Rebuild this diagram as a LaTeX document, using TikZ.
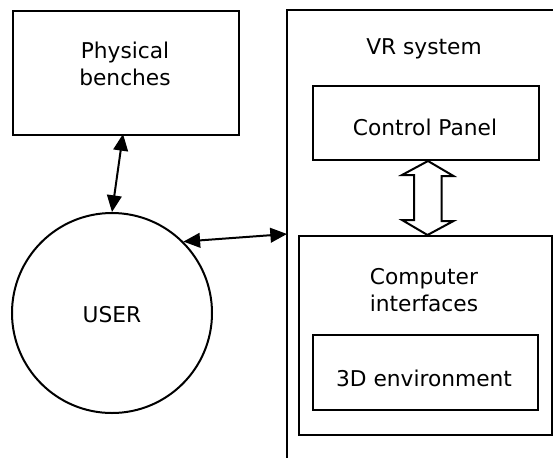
\documentclass[tikz,border=0pt]{standalone}
\usepackage{fontspec}
\setmainfont{DejaVu Sans}
\usetikzlibrary{arrows.meta,calc}
\begin{document}
\begin{tikzpicture}[x=0.75pt,y=-0.75pt,
  box/.style={draw,line width=1.5pt,inner sep=0pt,anchor=north west},
  lbl/.style={font=\fontsize{16.3}{20.3}\selectfont,align=center,inner sep=0pt},
  arr/.style={line width=1.5pt,{Triangle[length=12.5pt,width=11pt]}-{Triangle[length=12.5pt,width=11pt]}}]
\useasboundingbox (0,0) rectangle (553,457);
\begin{scope}
\clip (0,0) rectangle (553,457);
\draw[line width=1.5pt] (287,470) -- (287,10) -- (570,10);
\end{scope}
\coordinate (vrleft) at (287,234);
\node[box,minimum width=226*0.75pt,minimum height=124*0.75pt] (pb) at (12,10) {};
\node[lbl] (pbt) at (125,64) {Physical\\benches};
\node[draw,circle,line width=1.5pt,minimum size=200*0.75pt,inner sep=0pt] (user) at (112,313) {};
\node[lbl] (usert) at (112,315) {USER};
\node[lbl] (vrt) at (424,49) {VR system};
\node[box,minimum width=226*0.75pt,minimum height=74*0.75pt] (cp) at (312,85) {};
\node[lbl] (cpt) at (425,127) {Control Panel};
\node[box,minimum width=253*0.75pt,minimum height=199*0.75pt] (ci) at (298,235) {};
\node[lbl] (cit) at (424,290) {Computer\\interfaces};
\node[box,minimum width=225*0.75pt,minimum height=75*0.75pt] (env) at (312,334) {};
\node[lbl] (envt) at (424,378) {3D environment};
\draw[arr] (123,134) -- (user.north);
\draw[arr] (user.45) -- (vrleft);
\draw[line width=1.5pt,line join=miter]
  ($(cp.south)+(2,0)$) -- ++(25.5,15) -- ++(-12,0) -- ++(0,45) -- ++(12,0)
  -- ($(ci.north)+(2,0)$) -- ++(-25.5,-15) -- ++(12,0) -- ++(0,-45) -- ++(-12,0) -- cycle;
\end{tikzpicture}
\end{document}
